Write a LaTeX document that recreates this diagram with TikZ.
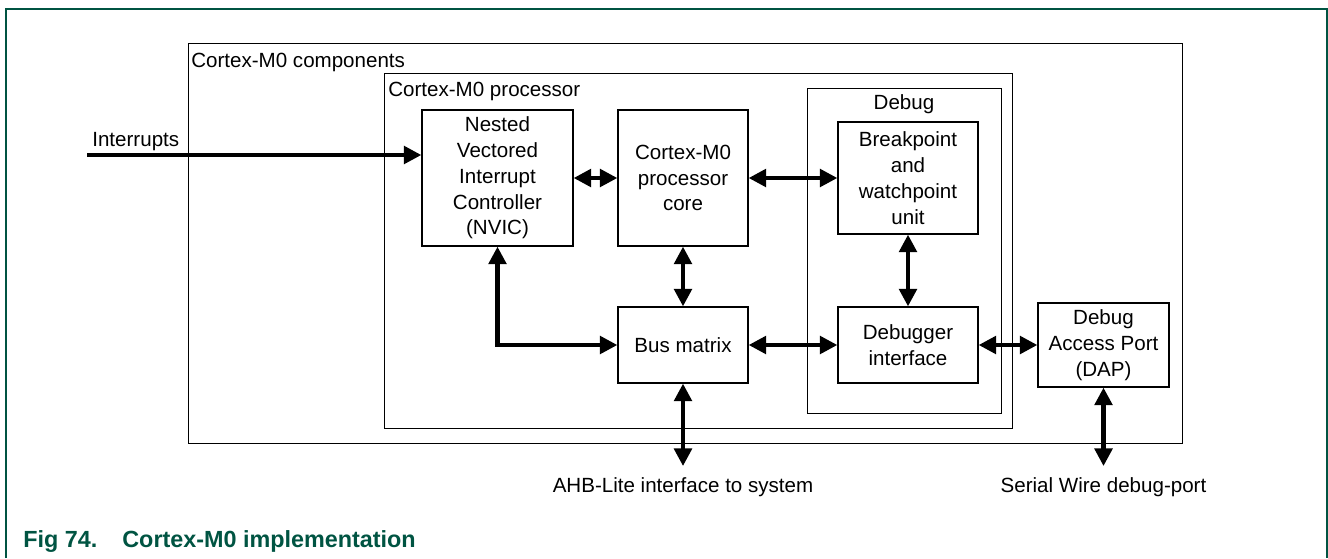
\documentclass[tikz,border=0pt]{standalone}
\usepackage{fontspec}
\setmainfont{Liberation Sans}
\usetikzlibrary{arrows.meta, positioning, calc}
\definecolor{figG}{RGB}{0, 84, 66}
\newcommand{\blkfont}{\fontsize{11.7}{14.7}\selectfont}
\tikzset{
  blk/.style  = {draw, line width=0.75pt, align=center, inner sep=2pt,
                 font=\blkfont},
  grp/.style  = {draw, line width=0.75pt, anchor=north west, inner sep=0pt},
  lbl/.style  = {font=\blkfont, inner sep=0pt},
  bus/.style  = {line width=2.3pt,
                 {Triangle[length=10pt, width=10pt]}-{Triangle[length=10pt, width=10pt]}},
  arr/.style  = {line width=2.3pt, -{Triangle[length=10pt, width=10pt]}},
}

\begin{document}
\begin{tikzpicture}[x=0.02cm, y=-0.02cm]

\useasboundingbox (0,0) rectangle (1328,558);

% ============================================================
%  Page frame and caption
% ============================================================
\draw[figG, line width=1.1pt] (6,558) -- (6,9) -- (1327,9) -- (1327,558);

\node[anchor=base west, inner sep=0pt, text=figG,
      font=\fontsize{13.3}{16}\selectfont\bfseries] (figno) at (23,547) {Fig 74.};
\node[anchor=base west, inner sep=0pt, text=figG,
      font=\fontsize{13.3}{16}\selectfont\bfseries] (figttl) at (122,547)
  {Cortex-M0 implementation};

% ============================================================
%  Nested groups
% ============================================================
\node[grp, minimum width=994*0.02cm, minimum height=400*0.02cm] (comp) at (188,43) {};
\node[lbl, anchor=base west] (complbl) at (191,67) {Cortex-M0 components};

\node[grp, minimum width=628*0.02cm, minimum height=355*0.02cm] (proc) at (384,73) {};
\node[lbl, anchor=base west] (proclbl) at (388,96) {Cortex-M0 processor};

\node[grp, minimum width=194*0.02cm, minimum height=325*0.02cm] (dbg) at (807,88) {};
\node[lbl, anchor=base] (dbglbl) at (904,109) {Debug};

% ============================================================
%  Blocks
% ============================================================
\node[blk, minimum width=151*0.02cm, minimum height=136*0.02cm] (nvic) at (497.5,178)
  {Nested\\Vectored\\Interrupt\\Controller\\(NVIC)};
\node[blk, minimum width=130*0.02cm, minimum height=136*0.02cm] (core) at (683,178)
  {Cortex-M0\\processor\\core};
\node[blk, minimum width=140*0.02cm, minimum height=112*0.02cm] (bwu) at (908,178)
  {Breakpoint\\and\\watchpoint\\unit};
\node[blk, minimum width=130*0.02cm, minimum height=76*0.02cm] (busmx) at (683,345)
  {Bus matrix};
\node[blk, minimum width=140*0.02cm, minimum height=76*0.02cm] (dbgif) at (908,345)
  {Debugger\\interface};
\node[blk, minimum width=131*0.02cm, minimum height=84*0.02cm] (dap) at (1103.5,345)
  {Debug\\Access Port\\(DAP)};

% ============================================================
%  Connections
% ============================================================
\coordinate (irqin) at (87,155);
\node[lbl, anchor=base west] (irqlbl) at (92,146) {Interrupts};
\draw[arr] (irqin) -- (irqin -| nvic.west);

\draw[bus] (nvic) -- (core);
\draw[bus] (core) -- (bwu);
\draw[bus] (core) -- (busmx);
\draw[bus] (nvic.south) |- (busmx.west);
\draw[bus] (busmx) -- (dbgif);
\draw[bus] (bwu) -- (dbgif);
\draw[bus] (dbgif) -- (dap);

% external ports
\coordinate (ahb) at (683,466);
\coordinate (swd) at (1103.5,466);
\draw[bus] (busmx.south) -- (ahb);
\draw[bus] (dap.south) -- (swd);
\node[lbl, anchor=base] (ahblbl) at (683,492) {AHB-Lite interface to system};
\node[lbl, anchor=base] (swdlbl) at (1103.5,492) {Serial Wire debug-port};

\end{tikzpicture}
\end{document}
